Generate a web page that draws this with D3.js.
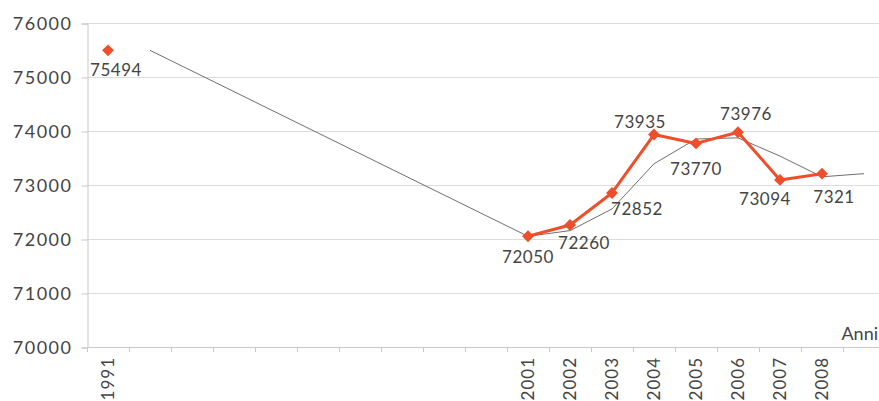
<!DOCTYPE html>
<html>
<head>
<meta charset="utf-8">
<script src="https://cdn.jsdelivr.net/npm/d3@7"></script>
<style>
  html, body { margin: 0; padding: 0; background: #ffffff; }
  svg { display: block; }
  text { font-family: Lato, "Open Sans", sans-serif; font-weight: 400; fill: #444444; }
</style>
</head>
<body>
<svg id="chart" width="879" height="401"></svg>
<script>
// Years on the category axis (blank slots keep the years without data)
const categories = ["1991", "", "", "", "", "", "", "", "", "", "2001", "2002", "2003", "2004", "2005", "2006", "2007", "2008", ""];
// Resident population
const population = [75494, null, null, null, null, null, null, null, null, null, 72050, 72260, 72852, 73935, 73770, 73976, 73094, 73210, null];
// Two-period moving average trend
const trend = [null, 75494, null, null, null, null, null, null, null, null, 72050, 72155, 72556, 73393, 73852, 73873, 73535, 73152, 73210];
// Data labels as printed next to each point
const valueLabels = ["75494", "", "", "", "", "", "", "", "", "", "72050", "72260", "72852", "73935", "73770", "73976", "73094", "7321", ""];
const yTicks = [70000, 71000, 72000, 73000, 74000, 75000, 76000];
const axisTitle = "Anni";

const svg = d3.select("#chart");
const plotLeft = 87, plotTop = 23, plotBottom = 347, step = 42;

const x = d3.scaleBand()
  .domain(d3.range(categories.length))
  .range([plotLeft, plotLeft + step * categories.length])
  .padding(0);
const y = d3.scaleLinear().domain([70000, 76000]).range([plotBottom, plotTop]);
const cx = i => x(i) + x.bandwidth() / 2;

// Horizontal gridlines
svg.append("g")
  .selectAll("line")
  .data(yTicks.slice(1))
  .join("line")
  .attr("x1", plotLeft).attr("x2", 879)
  .attr("y1", d => y(d) + 0.5).attr("y2", d => y(d) + 0.5)
  .attr("stroke", "#dcdcdc").attr("stroke-width", 1);

// Value axis
const yAxis = svg.append("g")
  .attr("transform", `translate(${plotLeft + 0.5},0.5)`)
  .call(d3.axisLeft(y).tickValues(yTicks).tickSize(6).tickPadding(9).tickFormat(d3.format("d")));
yAxis.select(".domain").attr("stroke", "#c8c8c8");
yAxis.selectAll(".tick line").attr("stroke", "#c8c8c8");
yAxis.selectAll(".tick text")
  .attr("font-size", 18).attr("fill", "#444444")
  .style("font-family", "Lato, sans-serif")
  .style("font-weight", 400)
  .style("letter-spacing", "1.5px");

// Category axis: baseline plus ticks on category boundaries
const xAxisG = svg.append("g");
xAxisG.append("line")
  .attr("x1", plotLeft).attr("x2", 879)
  .attr("y1", plotBottom + 0.5).attr("y2", plotBottom + 0.5)
  .attr("stroke", "#c8c8c8");
xAxisG.selectAll("line.tick")
  .data(d3.range(categories.length))
  .join("line")
  .attr("class", "tick")
  .attr("x1", i => x(i) + 0.5).attr("x2", i => x(i) + 0.5)
  .attr("y1", plotBottom).attr("y2", plotBottom + 5)
  .attr("stroke", "#c8c8c8");
xAxisG.selectAll("text")
  .data(categories.map((c, i) => ({ c, i })).filter(d => d.c !== ""))
  .join("text")
  .attr("transform", d => `translate(${cx(d.i)},357) rotate(-90)`)
  .attr("text-anchor", "end")
  .attr("dy", "0.35em")
  .attr("font-size", 17)
  .style("letter-spacing", "1px")
  .text(d => d.c);

// Axis title
svg.append("text")
  .attr("x", 878).attr("y", 340)
  .attr("text-anchor", "end")
  .attr("font-size", 18)
  .text(axisTitle);

// Trend line (connects across missing years)
const trendPts = trend.map((v, i) => ({ v, i })).filter(d => d.v !== null);
svg.append("path")
  .datum(trendPts)
  .attr("fill", "none")
  .attr("stroke", "#6f6f6f")
  .attr("stroke-width", 1)
  .attr("d", d3.line().x(d => cx(d.i)).y(d => y(d.v)));

// Population line (broken where years are missing)
const popPts = population.map((v, i) => ({ v, i }));
const red = "#ef4e2b";
svg.append("path")
  .datum(popPts)
  .attr("fill", "none")
  .attr("stroke", red)
  .attr("stroke-width", 3)
  .attr("stroke-linejoin", "round")
  .attr("d", d3.line().defined(d => d.v !== null).x(d => cx(d.i)).y(d => y(d.v)));

const present = popPts.filter(d => d.v !== null);
svg.append("g")
  .selectAll("path")
  .data(present)
  .join("path")
  .attr("transform", d => `translate(${cx(d.i)},${y(d.v)})`)
  .attr("d", d3.symbol(d3.symbolDiamond2, 90)())
  .attr("fill", red);

// Data label placement (offset of label centre/baseline from its point)
const labelOffset = {
  0: [8, 26], 10: [0, 27], 11: [14, 24], 12: [25, 22], 13: [-14, -7],
  14: [0, 32], 15: [8, -12], 16: [-15, 25], 17: [12, 29]
};
svg.append("g")
  .selectAll("text")
  .data(present)
  .join("text")
  .attr("x", d => cx(d.i) + labelOffset[d.i][0])
  .attr("y", d => y(d.v) + labelOffset[d.i][1])
  .attr("text-anchor", "middle")
  .attr("font-size", 17)
  .style("letter-spacing", "0.5px")
  .text(d => valueLabels[d.i]);
</script>
</body>
</html>
